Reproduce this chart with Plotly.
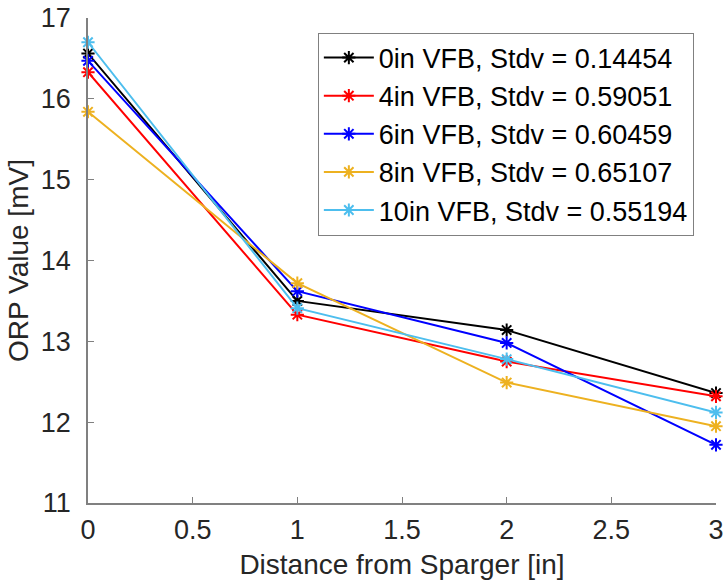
import plotly.graph_objects as go

distance = [0, 1, 2, 3]
series_names = [
    "0in VFB, Stdv = 0.14454",
    "4in VFB, Stdv = 0.59051",
    "6in VFB, Stdv = 0.60459",
    "8in VFB, Stdv = 0.65107",
    "10in VFB, Stdv = 0.55194",
]
orp_0in = [16.56, 13.50, 13.14, 12.36]
orp_4in = [16.33, 13.33, 12.75, 12.32]
orp_6in = [16.47, 13.62, 12.98, 11.72]
orp_8in = [15.84, 13.72, 12.49, 11.95]
orp_10in = [16.70, 13.41, 12.78, 12.12]
colors = ["#000000", "#FF0000", "#0000FF", "#EDB120", "#4DBEEE"]

FONT = "Liberation Sans, Arial, sans-serif"

fig = go.Figure()
for name, vals, c in zip(series_names, [orp_0in, orp_4in, orp_6in, orp_8in, orp_10in], colors):
    fig.add_trace(go.Scatter(
        x=distance, y=vals, name=name, mode="lines+markers",
        line=dict(color=c, width=2),
        marker=dict(symbol="asterisk-open", size=11, color=c, line=dict(color=c, width=2)),
        cliponaxis=False,
    ))

axis_common = dict(
    showline=True, linecolor="#808080", linewidth=1.5, ticks="inside", ticklen=6,
    tickcolor="#808080", showgrid=False, zeroline=False, mirror=False,
    automargin=False, ticklabeloverflow="allow",
    tickfont=dict(family=FONT, size=27, color="#262626"),
)
fig.update_xaxes(range=[0, 3], tickvals=[0, 0.5, 1, 1.5, 2, 2.5, 3],
                 ticktext=["0", "0.5", "1", "1.5", "2", "2.5", "3"],
                 ticklabelstandoff=2,
                 title=dict(text="Distance from Sparger [in]", standoff=10,
                            font=dict(family=FONT, size=28, color="#262626")),
                 **axis_common)
fig.update_yaxes(range=[11, 17], tickvals=[11, 12, 13, 14, 15, 16, 17],
                 ticklabelstandoff=10,
                 title=dict(text="ORP Value [mV]", standoff=4,
                            font=dict(family=FONT, size=28, color="#262626")),
                 **axis_common)

fig.update_layout(
    width=723, height=582,
    margin=dict(l=88, r=7, t=18, b=79),
    plot_bgcolor="white", paper_bgcolor="white",
    font=dict(family=FONT, size=28, color="#000000"),
    legend=dict(x=0.366, y=0.97, xanchor="left", yanchor="top",
                bgcolor="white", bordercolor="#808080", borderwidth=1,
                font=dict(family=FONT, size=27, color="#000000"),
                itemwidth=50, tracegroupgap=0),
    showlegend=True,
)

fig.write_html(
    "out.html",
    config={"displayModeBar": False},
    post_script="document.body.style.margin='0';document.body.style.overflow='hidden';",
)
